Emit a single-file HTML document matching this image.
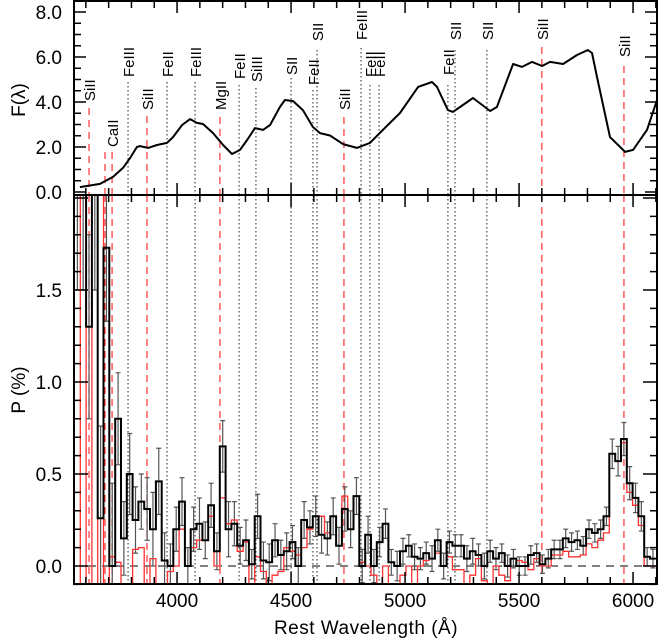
<!DOCTYPE html>
<html><head><meta charset="utf-8"><style>
html,body{margin:0;padding:0;background:#fff;}
svg{display:block;font-family:"Liberation Sans",sans-serif;}
</style></head><body>
<svg id="chart" width="659" height="642" viewBox="0 0 659 642" xmlns="http://www.w3.org/2000/svg">
<defs>
<clipPath id="clipTop"><rect x="74" y="1" width="583" height="194"/></clipPath>
<clipPath id="clipBot"><rect x="74" y="195" width="583" height="389"/></clipPath>
</defs>
<g id="gTop"></g>
<g id="gBot"></g>
<text x="0" y="0" transform="translate(25,100) rotate(-90)" text-anchor="middle" font-size="19">F(λ)</text>
<text x="0" y="0" transform="translate(25,390) rotate(-90)" text-anchor="middle" font-size="19">P (%)</text>
<text x="366" y="634" text-anchor="middle" font-size="19" letter-spacing="0.5">Rest Wavelength (Å)</text>
</svg>
<script>
// ---- data ----
const fluxWave = [3574,3662,3719,3763,3794,3824,3837,3873,3912,3956,3982,4022,4057,4087,4114,4158,4202,4241,4276,4307,4342,4377,4408,4451,4473,4509,4552,4596,4627,4671,4728,4789,4846,4903,4978,5057,5118,5140,5188,5210,5298,5373,5403,5474,5513,5557,5601,5636,5693,5754,5802,5820,5842,5899,5912,5965,6000,6061,6109];
const fluxVal = [0.22,0.36,0.67,1.07,1.51,2.0,2.04,1.96,2.09,2.18,2.44,2.98,3.24,3.07,3.02,2.62,2.09,1.69,1.87,2.31,2.84,2.76,2.98,3.78,4.09,4.04,3.64,2.89,2.62,2.51,2.13,1.96,2.18,2.76,3.51,4.67,4.89,4.67,3.64,3.56,4.18,3.6,3.78,5.69,5.56,5.78,5.6,5.78,5.69,6.09,6.31,6.18,5.11,2.44,2.31,1.78,1.87,2.76,4.2];
const binStart = 3550;
const binEnd = 6100;
const polBlack = [2.1,2.1,1.3,2.1,0.26,1.73,0.0,
0.8,0.15,0.5,0.25,0.35,0.31,0.2,0.46,0.03,0.0,0.2,0.35,0.0,0.2,0.23,0.14,0.33,0.08,0.65,0.2,0.23,0.11,0.14,0.01,0.27,0.03,0.02,
0.14,0.06,0.08,0.13,0.0,0.25,0.21,0.27,0.17,0.15,0.27,0.11,0.31,0.2,0.38,0.0,0.17,0.0,0.13,0.23,0.02,0.0,0.08,0.11,0.05,0.04,0.07,0.04,0.14,0.0,0.13,0.11,
0.11,0.04,0.08,0.06,0.0,0.08,0.04,0.07,0.0,0.04,0.0,0.0,0.06,0.07,0.01,0.04,0.09,0.09,0.15,0.13,0.14,0.11,0.2,0.18,0.2,0.27,0.61,0.57,0.69,0.45,0.37,0.27,0.05,0.04];
const polRed = [2.1,-0.1,2.1,-0.1,2.1,-0.1,0.05,
0.02,-0.1,-0.1,0.09,0.1,-0.1,0.04,-0.1,-0.1,-0.03,0.0,0.2,0.0,0.1,0.14,0.14,0.27,0.0,0.37,0.23,0.25,0.08,0.13,-0.1,0.05,-0.03,-0.1,
-0.05,-0.03,0.1,0.08,0.06,0.1,0.2,0.27,0.27,0.18,0.27,0.11,0.38,0.2,0.38,0.02,0.0,-0.05,-0.1,0.0,-0.1,-0.1,-0.05,0.0,-0.1,0.0,0.03,0.04,0.07,0.0,0.05,-0.02,
-0.02,-0.1,-0.05,0.04,-0.08,-0.1,0.0,-0.05,-0.08,0.04,0.03,0.02,-0.02,0.04,0.0,0.0,0.06,0.06,0.08,0.05,0.05,0.06,0.12,0.1,0.14,0.18,0.61,0.57,0.67,0.4,0.33,0.22,0.0,0.0];
const polErr = [0.6,0.6,0.5,0.6,0.5,0.4,0.45,
0.25,0.2,0.22,0.18,0.15,0.17,0.2,0.18,0.15,0.12,0.12,0.13,0.1,0.12,0.14,0.1,0.12,0.1,0.14,0.15,0.12,0.1,0.11,0.08,0.12,0.1,0.1,
0.09,0.08,0.1,0.09,0.1,0.1,0.09,0.11,0.1,0.09,0.1,0.1,0.12,0.1,0.1,0.09,0.1,0.09,0.08,0.08,0.07,0.08,0.07,0.06,0.07,0.06,0.06,0.07,0.06,0.07,0.06,0.06,
0.06,0.07,0.07,0.06,0.07,0.06,0.06,0.05,0.06,0.05,0.05,0.05,0.05,0.05,0.05,0.05,0.05,0.05,0.05,0.05,0.05,0.05,0.05,0.05,0.05,0.05,0.08,0.08,0.09,0.09,0.08,0.08,0.05,0.05];
const markerWave = [3614,3684,3715,3868,4188,4732,5600,5960,3785,3956,4079,4272,4346,4500,4596,4614,4807,4846,4886,5188,5219,5359];
const markerLabel = ["SiII","","CaII","SiII","MgII","SiII","SiII","SiII","FeIII","FeII","FeIII","FeII","SiIII","SII","FeII","SII","FeIII","FeII","FeII","FeII","SII","SII"];
const markerRed = [1,1,1,1,1,1,1,1,0,0,0,0,0,0,0,0,0,0,0,0,0,0];
const markerTop = [108,152,152,116,117,117,47,66,82,82,82,85,88,78,90,50,48,85,85,85,50,50];
const markerLabelBottom = [101,147,147,110,110,110,40,57,77,77,77,79,82,75,85,41,40,77,77,75,40,40];
const flyTicks = [0,2,4,6,8];
const flyTickLabels = ["0.0","2.0","4.0","6.0","8.0"];
const pTicks = [0,0.5,1,1.5];
const pTickLabels = ["0.0","0.5","1.0","1.5"];
const xTicks = [4000,4500,5000,5500,6000];
const xTickLabels = ["4000","4500","5000","5500","6000"];

// ---- scales ----
const X0=74,X1=657,W0=3548,W1=6105;
function xs(w){return X0+(w-W0)*(X1-X0)/(W1-W0);}
function yF(f){return 192-22.5*f;}
function yP(p){return 566-184*p;}
const NS="http://www.w3.org/2000/svg";
function mk(tag,attrs,parent){const e=document.createElementNS(NS,tag);for(const k in attrs)e.setAttribute(k,attrs[k]);parent.appendChild(e);return e;}
const gT=document.getElementById('gTop'), gB=document.getElementById('gBot');

// markers
for(let i=0;i<markerWave.length;i++){
  const x=xs(markerWave[i]);
  const col=markerRed[i]?"#ff3030":"#222";
  const dash=markerRed[i]?"7,5":"1.5,2.5";
  const l1=mk('line',{x1:x,x2:x,y1:markerTop[i],y2:195,stroke:col,'stroke-width':markerRed[i]?1.2:1,'stroke-dasharray':dash},gT);
  
  
  const l2=mk('line',{x1:x,x2:x,y1:195,y2:584,stroke:col,'stroke-width':markerRed[i]?1.2:1,'stroke-dasharray':dash},gB);
  
  
  if(markerLabel[i]){
    const t=mk('text',{x:0,y:0,transform:`translate(${x+6},${markerLabelBottom[i]}) rotate(-90)`,'font-size':15},gT);
    t.textContent=markerLabel[i];
    
    
  }
}

// flux curve
let d='';
for(let i=0;i<fluxWave.length;i++){d+=(i?'L':'M')+xs(fluxWave[i]).toFixed(1)+','+yF(fluxVal[i]).toFixed(1);}
const fc=mk('path',{d:d,fill:'none',stroke:'#000','stroke-width':2,'stroke-linejoin':'round','clip-path':'url(#clipTop)'},gT);



// zero line
const zl=mk('line',{x1:X0,x2:X1,y1:yP(0),y2:yP(0),stroke:'#000','stroke-width':1,'stroke-dasharray':'8,6'},gB);



const N=polBlack.length, bw=(binEnd-binStart)/N;
// error bars
for(let i=0;i<N;i++){
  const xc=xs(binStart+(i+0.5)*bw), v=polBlack[i], e=polErr[i];
  const eb=mk('path',{d:`M${xc},${yP(v-e)}V${yP(v+e)}M${xc-2.5},${yP(v-e)}h5M${xc-2.5},${yP(v+e)}h5`,stroke:'#555','stroke-width':1.2,fill:'none','clip-path':'url(#clipBot)'},gB);
  
  
}
function stepPath(arr){
  let s='';
  for(let i=0;i<arr.length;i++){
    const x0=xs(binStart+i*bw), x1=xs(binStart+(i+1)*bw), y=yP(arr[i]);
    s+=(i?'L':'M')+x0.toFixed(1)+','+y.toFixed(1)+'L'+x1.toFixed(1)+','+y.toFixed(1);
  }
  return s;
}
const rp=mk('path',{d:stepPath(polRed),fill:'none',stroke:'#ff3030','stroke-width':1.3,'clip-path':'url(#clipBot)'},gB);


const bp=mk('path',{d:stepPath(polBlack),fill:'none',stroke:'#000','stroke-width':2,'clip-path':'url(#clipBot)'},gB);



// frames & ticks
function frame(g,y0,y1){
  const r=mk('rect',{x:X0,y:y0,width:X1-X0,height:y1-y0,fill:'none',stroke:'#000','stroke-width':2},g);
  
  
  let s='';
  for(let w=3600;w<=6100;w+=100){
    const x=xs(w), L=(w%500===0)?12:7;
    s+=`M${x},${y1}v${-L}M${x},${y0}v${L}`;
  }
  mk('path',{d:s,stroke:'#000','stroke-width':1.5,fill:'none'},g);
}
frame(gT,1,195);
frame(gB,195,584);
let ty='';
for(let f=0;f<=8.4;f+=0.5){const y=yF(f),L=(Math.abs(f%2)<1e-6)?12:7;ty+=`M${X0},${y}h${L}M${X1},${y}h${-L}`;}
mk('path',{d:ty,stroke:'#000','stroke-width':1.5,fill:'none'},gT);
let tp='';
for(let k=-1;k<=20;k++){const p=k/10,y=yP(p),L=(k%5===0)?14:7;tp+=`M${X0},${y}h${L}M${X1},${y}h${-L}`;}
mk('path',{d:tp,stroke:'#000','stroke-width':1.5,fill:'none'},gB);

for(let i=0;i<flyTicks.length;i++){
  const t=mk('text',{x:62,y:yF(flyTicks[i])+7,'text-anchor':'end','font-size':19},gT);
  t.textContent=flyTickLabels[i];
  
  
}
for(let i=0;i<pTicks.length;i++){
  const t=mk('text',{x:62,y:yP(pTicks[i])+7,'text-anchor':'end','font-size':19},gB);
  t.textContent=pTickLabels[i];
  
  
}
for(let i=0;i<xTicks.length;i++){
  const t=mk('text',{x:xs(xTicks[i]),y:607,'text-anchor':'middle','font-size':19},gB);
  t.textContent=xTickLabels[i];
  
  
}
</script>
</body></html>
